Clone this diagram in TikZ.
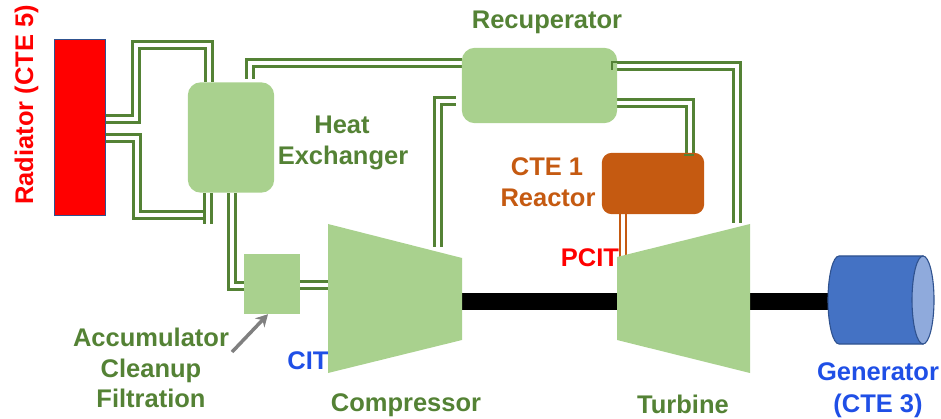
\documentclass[tikz,border=0pt]{standalone}
\usepackage{fontspec}
\setmainfont{Liberation Sans}
\usetikzlibrary{arrows.meta}
\definecolor{pipegreen}{HTML}{548235}
\definecolor{boxgreen}{HTML}{A9D18E}
\definecolor{reactorbrown}{HTML}{C55A11}
\definecolor{labelblue}{HTML}{1F4FE6}
\definecolor{genblue}{HTML}{4472C4}
\definecolor{genlight}{HTML}{8FAADC}
\definecolor{genedge}{HTML}{2F528F}
\tikzset{
  pipe/.style={draw=pipegreen,line width=2.7pt,double=white,double distance=4.4pt},
  hotpipe/.style={draw=reactorbrown,line width=2.4pt,double=white,double distance=3.4pt},
  tick/.style={draw=pipegreen,line width=2.6pt},
  label/.style={font=\fontsize{25.5}{25.5}\selectfont\bfseries,inner sep=0pt,anchor=base},
  shaft/.style={fill=black},
  machine/.style={fill=boxgreen},
}
\begin{document}
\begin{tikzpicture}[x=1pt,y=-1pt]
\useasboundingbox (0,0) rectangle (941,419);

\coordinate (compNW) at (328,224);
\coordinate (compNE) at (462,258);
\coordinate (compSE) at (462,340);
\coordinate (compSW) at (328,373);
\coordinate (turbNW) at (617,257);
\coordinate (turbNE) at (750,224);
\coordinate (turbSE) at (750,373);
\coordinate (turbSW) at (617,340);
\coordinate (genL) at (830,301.5);

\path node[minimum width=50pt,minimum height=175pt,inner sep=0pt] (rad) at (80,127.5) {};
\path node[minimum width=86pt,minimum height=110pt,inner sep=0pt] (hx) at (231,137.5) {};
\path node[minimum width=155pt,minimum height=75pt,inner sep=0pt] (rec) at (539.5,85.5) {};
\path node[minimum width=102pt,minimum height=61pt,inner sep=0pt] (rea) at (653,183.5) {};
\path node[minimum width=56pt,minimum height=60pt,inner sep=0pt] (acc) at (272,284) {};

% pipes
\draw[pipe] (rad.east |- 0,119) -| (136,45) -| (hx.north -| 209,0);
\draw[pipe] (rad.east |- 0,138) -| (137,215) -- (205,215);
\draw[pipe] (hx.south -| 208,0) -- (208,224);
\coordinate (hxtop) at (250,79);
\draw[pipe] (hxtop) |- (rec.west |- 0,63);
\draw[pipe] (hx.south -| 232,0) |- (acc.west |- 0,286);
\draw[pipe] (acc.east |- 0,285) -- (compNW |- 0,285);
\coordinate (comptop) at (438,247);
\coordinate (recin) at (456,101);
\draw[pipe] (comptop) |- (recin);
\coordinate (turbtop) at (737,223);
\draw[pipe] (rec.east |- 0,66) -| (turbtop);
\draw[pipe] (rec.east |- 0,103) -| (rea.north -| 690,0);
\draw[hotpipe] (rea.south -| 623,0) -- (623,262);

% shafts
\fill[shaft] (compNE |- 0,293) rectangle (turbSW |- 0,310);
\fill[shaft] (turbNE |- 0,293) rectangle (genL |- 0,310);

% equipment
\fill[red,draw=genedge,line width=1.2pt] (rad.south west) rectangle (rad.north east);
\fill[boxgreen,rounded corners=13pt] (hx.south west) rectangle (hx.north east);
\fill[boxgreen,rounded corners=13pt] (rec.south west) rectangle (rec.north east);
\fill[reactorbrown,rounded corners=10pt] (rea.south west) rectangle (rea.north east);
\fill[boxgreen] (acc.south west) rectangle (acc.north east);
\fill[machine] (compNW) -- (compNE) -- (compSE) -- (compSW) -- cycle;
\fill[machine] (turbNW) -- (turbNE) -- (turbSE) -- (turbSW) -- cycle;

% pipe ends that lie over the boxes
\draw[tick] (612,70) -- (612,62) -- (619,62);
\draw[tick,line width=2.5pt] (684,155) -- (694,155);

% generator
\draw[genedge,fill=genblue,line width=1.1pt] (923,256) -- (839,256)
  arc[start angle=90,end angle=270,x radius=11pt,y radius=44pt] -- (923,344) -- cycle;
\draw[genedge,fill=genlight,line width=1.1pt] (923,300) ellipse[x radius=11pt,y radius=44pt];

% labels
\node[label,text=red,rotate=90] (tRad) at (33,105) {Radiator (CTE 5)};
\node[label,text=pipegreen] (tRec) at (547,29) {Recuperator};
\node[label,text=pipegreen] (tHeat) at (342,134) {Heat};
\node[label,text=pipegreen] (tExch) at (343,165) {Exchanger};
\node[label,text=reactorbrown] (tCte) at (547,176) {CTE 1};
\node[label,text=reactorbrown] (tRea) at (548,207) {Reactor};
\node[label,text=red] (tPcit) at (590,266) {PCIT};
\node[label,text=labelblue] (tCit) at (308,369) {CIT};
\node[label,text=pipegreen] (tAcc) at (151,346) {Accumulator};
\node[label,text=pipegreen] (tCle) at (151,377) {Cleanup};
\node[label,text=pipegreen] (tFil) at (151,407) {Filtration};
\node[label,text=pipegreen] (tCom) at (406,411) {Compressor};
\node[label,text=pipegreen] (tTur) at (683,413) {Turbine};
\node[label,text=labelblue] (tGen) at (878,380) {Generator};
\node[label,text=labelblue] (tGen2) at (878,412) {(CTE 3)};

% arrow
\coordinate (arrowtail) at (232,352);
\draw[draw=gray,line width=3.5pt,-{Stealth[length=12pt,width=13pt]}] (arrowtail) -- (acc.south -| 268,0);
\end{tikzpicture}
\end{document}
